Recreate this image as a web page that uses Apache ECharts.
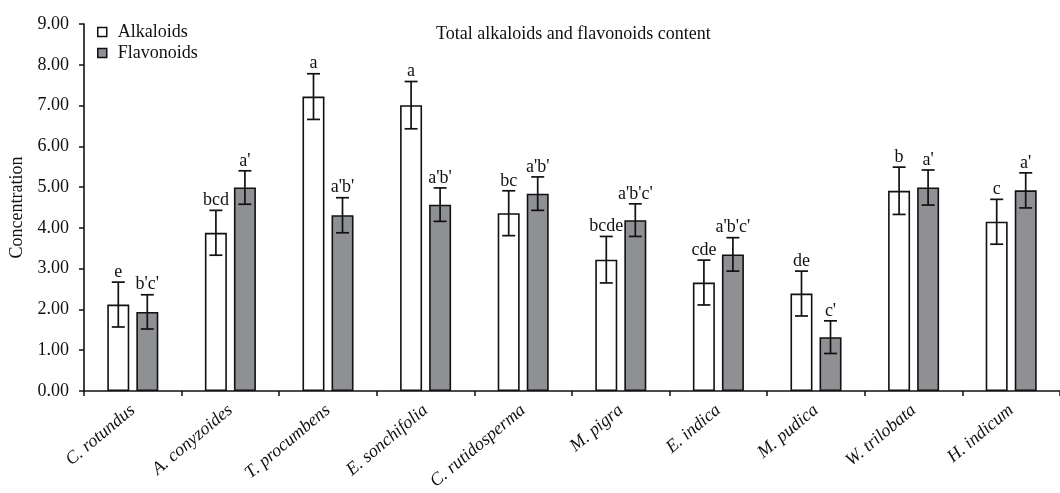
<!DOCTYPE html>
<html>
<head>
<meta charset="utf-8">
<script src="https://cdn.jsdelivr.net/npm/echarts@6/dist/echarts.min.js"></script>
<style>html,body{margin:0;padding:0;background:#fff}#c{width:1060px;height:493px}</style>
</head>
<body>
<div id="c"></div>
<script>
const categories = ['C. rotundus','A. conyzoides','T. procumbens','E. sonchifolia','C. rutidosperma','M. pigra','E. indica','M. pudica','W. trilobata','H. indicum'];
const alkaloids = [2.12, 3.88, 7.22, 7.01, 4.36, 3.22, 2.66, 2.39, 4.91, 4.15];
const alkaloidsErr = [0.55, 0.55, 0.56, 0.58, 0.55, 0.57, 0.55, 0.55, 0.58, 0.55];
const flavonoids = [1.94, 4.99, 4.31, 4.57, 4.84, 4.19, 3.35, 1.32, 4.99, 4.92];
const flavonoidsErr = [0.42, 0.41, 0.43, 0.41, 0.41, 0.40, 0.41, 0.40, 0.43, 0.43];
const alkaloidsSig = ['e','bcd','a','a','bc','bcde','cde','de','b','c'];
const flavonoidsSig = ["b'c'","a'","a'b'","a'b'","a'b'","a'b'c'","a'b'c'","c'","a'","a'"];
const yTicks = [0,1,2,3,4,5,6,7,8,9];

const FONT = '"Liberation Serif","DejaVu Serif",serif';
const GRAY = '#8f9094';
const BAR_W = 22;
const OFF = 14.5;

function errSeries(name, vals, errs, sigs, sign) {
  return {
    name: name + ' err',
    type: 'custom',
    z: 5,
    data: vals.map((v, i) => [i, v, errs[i]]),
    renderItem: function (params, api) {
      const i = api.value(0), v = api.value(1), e = api.value(2);
      const sig = sigs[params.dataIndex];
      const top = api.coord([i, v + e]);
      const bot = api.coord([i, v - e]);
      const x = top[0] + sign * OFF;
      const cap = 6.5;
      const st = { stroke: '#111', lineWidth: 1.7 };
      return {
        type: 'group',
        children: [
          { type: 'line', shape: { x1: x, y1: top[1], x2: x, y2: bot[1] }, style: st },
          { type: 'line', shape: { x1: x - cap, y1: top[1], x2: x + cap, y2: top[1] }, style: st },
          { type: 'line', shape: { x1: x - cap, y1: bot[1], x2: x + cap, y2: bot[1] }, style: st },
          { type: 'text', x: x, y: top[1] - 1, style: { text: sig, fill: '#111', font: '18px ' + FONT, align: 'center', verticalAlign: 'bottom' } }
        ]
      };
    },
    silent: true,
    tooltip: { show: false }
  };
}

const chart = echarts.init(document.getElementById('c'), null, { renderer: 'canvas' });
chart.setOption({
  animation: false,
  backgroundColor: '#fff',
  textStyle: { fontFamily: FONT },
  title: {
    text: 'Total alkaloids and flavonoids content',
    left: 431, top: 20,
    textStyle: { fontFamily: FONT, fontSize: 18, fontWeight: 'normal', color: '#111' }
  },
  legend: {
    orient: 'vertical', left: 92, top: 18,
    itemWidth: 9, itemHeight: 9, itemGap: 3,
    icon: 'rect',
    data: [
      { name: 'Alkaloids', itemStyle: { color: '#fff', borderColor: '#111', borderWidth: 1.5 } },
      { name: 'Flavonoids', itemStyle: { color: GRAY, borderColor: '#111', borderWidth: 1.5 } }
    ],
    textStyle: { fontFamily: FONT, fontSize: 18, color: '#111', padding: [0, 0, 0, 6] }
  },
  grid: { left: 84, right: -11, top: 24, bottom: 102, containLabel: false },
  xAxis: {
    type: 'category',
    data: categories,
    axisLine: { lineStyle: { color: '#111', width: 1.6 } },
    axisTick: { show: true, length: 5, lineStyle: { color: '#111', width: 1.5 } },
    axisLabel: { rotate: 40, fontFamily: FONT, fontStyle: 'italic', fontSize: 18, color: '#111', margin: 17, interval: 0 }
  },
  yAxis: {
    type: 'value',
    min: yTicks[0], max: yTicks[yTicks.length - 1], interval: 1,
    name: 'Concentration',
    nameLocation: 'middle', nameGap: 55,
    nameTextStyle: { fontFamily: FONT, fontSize: 18, color: '#111' },
    axisLine: { show: true, lineStyle: { color: '#111', width: 1.6 } },
    axisTick: { show: true, length: 5, lineStyle: { color: '#111', width: 1.5 } },
    splitLine: { show: false },
    axisLabel: { fontFamily: FONT, fontSize: 18, color: '#111', margin: 15, formatter: v => v.toFixed(2) }
  },
  series: [
    {
      name: 'Alkaloids', type: 'bar', data: alkaloids,
      barWidth: BAR_W, barGap: '32%',
      itemStyle: { color: '#fff', borderColor: '#111', borderWidth: 1.6 }
    },
    {
      name: 'Flavonoids', type: 'bar', data: flavonoids,
      barWidth: BAR_W,
      itemStyle: { color: GRAY, borderColor: '#111', borderWidth: 1.6 }
    },
    errSeries('Alkaloids', alkaloids, alkaloidsErr, alkaloidsSig, -1),
    errSeries('Flavonoids', flavonoids, flavonoidsErr, flavonoidsSig, 1)
  ]
});
</script>
</body>
</html>
